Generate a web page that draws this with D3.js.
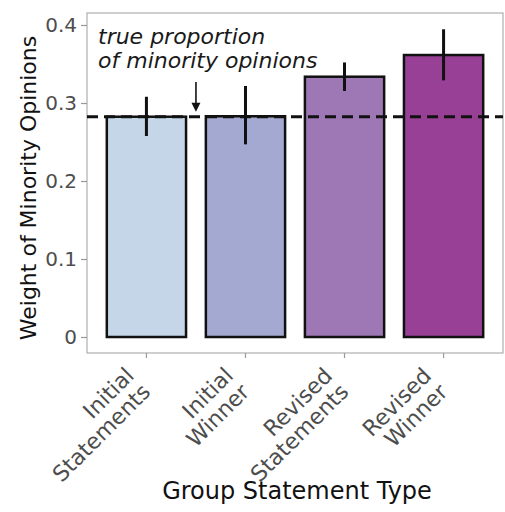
<!DOCTYPE html>
<html>
<head>
<meta charset="utf-8">
<script src="https://cdn.jsdelivr.net/npm/d3@7"></script>
<style>
  body { margin: 0; background: #fff; }
  text { font-family: "DejaVu Sans", sans-serif; }
</style>
</head>
<body>
<script>
// data
const categories = ["Initial Statements", "Initial Winner", "Revised Statements", "Revised Winner"];
const labelLines = [["Initial", "Statements"], ["Initial", "Winner"], ["Revised", "Statements"], ["Revised", "Winner"]];
const means = [0.2824, 0.2830, 0.3337, 0.3615];
const errLow = [0.2577, 0.2470, 0.3154, 0.3290];
const errHigh = [0.3080, 0.3218, 0.3520, 0.3945];
const barColors = ["#c5d6e8", "#a3a9d1", "#9e77b5", "#984095"];
const trueProportion = 0.2824;
const yTicks = [0, 0.1, 0.2, 0.3, 0.4];
const yTickLabels = ["0", "0.1", "0.2", "0.3", "0.4"];

const w = 505, h = 512;
const panel = {left: 87, right: 503, top: 13, bottom: 353};

const svg = d3.select("body").append("svg")
  .attr("width", w)
  .attr("height", h);

const x = d3.scaleBand()
  .domain(categories)
  .range([panel.left, panel.right])
  .paddingInner(0.2)
  .paddingOuter(0.2);

const y = d3.scaleLinear()
  .domain([0, 0.4])
  .range([337, 25]);

// panel border
svg.append("rect")
  .attr("x", panel.left).attr("y", panel.top)
  .attr("width", panel.right - panel.left)
  .attr("height", panel.bottom - panel.top)
  .attr("fill", "none")
  .attr("stroke", "#b0b0b0")
  .attr("stroke-width", 1.2);

// y axis
const yAxis = svg.append("g")
  .attr("transform", `translate(${panel.left},0)`)
  .call(d3.axisLeft(y).tickValues(yTicks).tickSize(6).tickPadding(4)
    .tickFormat((d, i) => yTickLabels[i]));
yAxis.select(".domain").remove();
yAxis.selectAll("line").attr("stroke", "#999").attr("stroke-width", 1.2);
yAxis.selectAll("text")
  .attr("fill", "#4d4d4d")
  .style("font-size", "20px")
  .style("font-family", "DejaVu Sans");

// x axis ticks
const xAxis = svg.append("g")
  .attr("transform", `translate(0,${panel.bottom})`)
  .call(d3.axisBottom(x).tickSize(5).tickFormat(""));
xAxis.select(".domain").remove();
xAxis.selectAll("line").attr("stroke", "#999").attr("stroke-width", 1.2);

// rotated two-line category labels
const lab = svg.append("g").selectAll("text")
  .data(categories)
  .enter()
  .append("text")
  .attr("transform", d => `translate(${x(d) + x.bandwidth() / 2 - 11},377) rotate(-45)`)
  .attr("text-anchor", "end")
  .attr("fill", "#4d4d4d")
  .style("font-size", "22px");
lab.each(function(d, i) {
  const t = d3.select(this);
  labelLines[i].forEach((line, j) => {
    t.append("tspan").attr("x", 0).attr("y", j * 23).text(line);
  });
});

// bars
svg.selectAll("rect.bar")
  .data(categories)
  .enter()
  .append("rect")
  .attr("class", "bar")
  .attr("x", d => x(d))
  .attr("y", (d, i) => y(means[i]))
  .attr("width", x.bandwidth())
  .attr("height", (d, i) => y(0) - y(means[i]))
  .attr("fill", (d, i) => barColors[i])
  .attr("stroke", "#111")
  .attr("stroke-width", 2.5);

// dashed reference line
svg.append("line")
  .attr("x1", panel.left).attr("x2", panel.right)
  .attr("y1", y(trueProportion)).attr("y2", y(trueProportion))
  .attr("stroke", "#111")
  .attr("stroke-width", 3)
  .attr("stroke-dasharray", "11,6");

// error bars
svg.selectAll("line.err")
  .data(categories)
  .enter()
  .append("line")
  .attr("class", "err")
  .attr("x1", d => x(d) + x.bandwidth() / 2)
  .attr("x2", d => x(d) + x.bandwidth() / 2)
  .attr("y1", (d, i) => y(errLow[i]))
  .attr("y2", (d, i) => y(errHigh[i]))
  .attr("stroke", "#111")
  .attr("stroke-width", 3);

// annotation
const ax = (x(categories[0]) + x.bandwidth() + x(categories[1])) / 2;
const tipY = y(trueProportion) - 5;
svg.append("line")
  .attr("x1", ax).attr("x2", ax)
  .attr("y1", 82).attr("y2", tipY - 6)
  .attr("stroke", "#111").attr("stroke-width", 1.6);
svg.append("path")
  .attr("d", `M${ax - 4.5},${tipY - 9} L${ax + 4.5},${tipY - 9} L${ax},${tipY} Z`)
  .attr("fill", "#111");

const note = svg.append("text")
  .attr("x", 98)
  .attr("fill", "#1a1a1a")
  .style("font-size", "22px")
  .style("font-style", "italic");
note.append("tspan").attr("x", 98).attr("y", 44).text("true proportion");
note.append("tspan").attr("x", 98).attr("y", 68).text("of minority opinions");

// axis titles
svg.append("text")
  .attr("transform", `translate(36,188) rotate(-90)`)
  .attr("text-anchor", "middle")
  .attr("fill", "#111")
  .style("font-size", "22px")
  .text("Weight of Minority Opinions");

svg.append("text")
  .attr("x", 297)
  .attr("y", 499)
  .attr("text-anchor", "middle")
  .attr("fill", "#111")
  .style("font-size", "24px")
  .text("Group Statement Type");
</script>
</body>
</html>
